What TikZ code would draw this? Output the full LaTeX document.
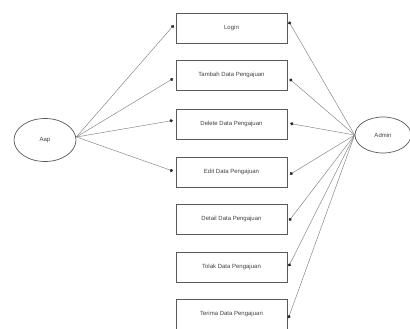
\documentclass[tikz,border=0pt]{standalone}
\usepackage{fontspec}
\setmainfont{Liberation Sans}
\usetikzlibrary{arrows.meta,shapes.geometric}
\begin{document}
\begin{tikzpicture}[x=1pt,y=-1pt,
  usecase/.style={draw=black!65,line width=0.7pt,rectangle,minimum width=111pt,minimum height=30pt,inner sep=0pt,font=\fontsize{6}{7}\selectfont,text=black!75},
  actor/.style={draw=black!65,line width=0.7pt,ellipse,inner sep=0pt,font=\fontsize{6}{7}\selectfont,text=black!75},
  conn/.style={draw=black!50,line width=0.45pt,-{Circle[length=3.2pt,fill=black!85,color=black!85]},shorten >=3pt}]
\useasboundingbox (0,0) rectangle (410,329);
\node[actor,minimum width=62pt,minimum height=43pt] (aap) at (45,140) {Aap};
\node[actor,minimum width=56pt,minimum height=36pt] (admin) at (383,135) {Admin};
\node[usecase] (login) at (231.5,28) {Login};
\node[usecase] (tambah) at (231.5,75) {Tambah Data Pengajuan};
\node[usecase] (delete) at (231.5,124) {Delete Data Pengajuan};
\node[usecase] (edit) at (231.5,172) {Edit Data Pengajuan};
\node[usecase] (detail) at (231.5,219) {Detail Data Pengajuan};
\node[usecase] (tolak) at (231.5,267) {Tolak Data Pengajuan};
\node[usecase] (terima) at (231.5,314) {Terima Data Pengajuan};
\foreach \n/\d in {login/5, tambah/-2, delete/4, edit/0} {
  \draw[conn] ([yshift=3pt]aap.east) -- ([yshift=\d pt]\n.west);
}
\foreach \n/\d in {login/9, tambah/-2, delete/1, edit/-4, detail/-4, tolak/-2, terima/-7} {
  \draw[conn] (admin.west) -- ([yshift=\d pt]\n.east);
}
\end{tikzpicture}
\end{document}
